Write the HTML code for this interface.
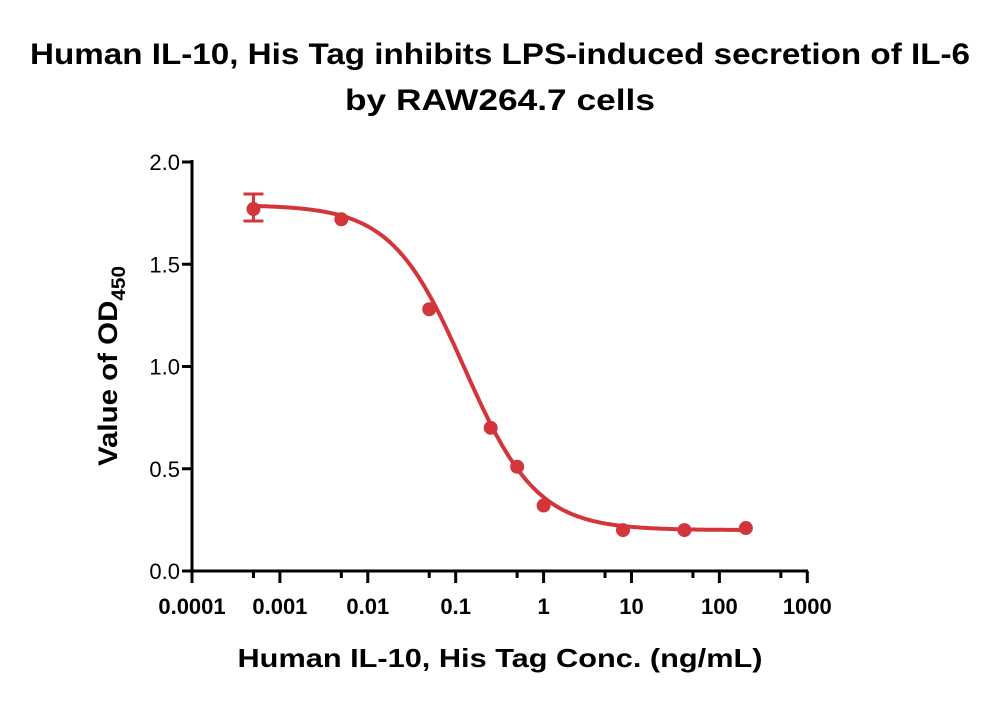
<!DOCTYPE html>
<html><head><meta charset="utf-8"><style>
body{margin:0;background:#fff;}
svg text{font-family:"Liberation Sans",sans-serif;fill:#000;}
</style></head><body>
<svg id="s" width="1000" height="699" viewBox="0 0 1000 699" xmlns="http://www.w3.org/2000/svg">
<text x="500" y="64" font-size="30" font-weight="bold" text-anchor="middle" textLength="940" lengthAdjust="spacingAndGlyphs">Human IL-10, His Tag inhibits LPS-induced secretion of IL-6</text>
<text x="500" y="110" font-size="30" font-weight="bold" text-anchor="middle" textLength="310" lengthAdjust="spacingAndGlyphs">by RAW264.7 cells</text>
<text x="500" y="667" font-size="26" font-weight="bold" text-anchor="middle" textLength="525" lengthAdjust="spacingAndGlyphs">Human IL-10, His Tag Conc. (ng/mL)</text>
<text transform="translate(117,366) rotate(-90)" font-size="27" font-weight="bold" text-anchor="middle" textLength="200" lengthAdjust="spacingAndGlyphs">Value of OD<tspan font-size="19" dy="8">450</tspan></text>
<g id="ax" stroke="#000" stroke-width="3" fill="none"></g>
<g id="lab" font-size="22"></g>
<path id="curve" fill="none" stroke="#d2363b" stroke-width="4"/>
<g id="pts" fill="#d2363b" stroke="#d2363b"></g>
</svg>
<script>
var X0=192,DX=87.9,Y0=571,SY=204.5;
function px(v){return X0+DX*(Math.log10(v)+4);}
function py(v){return Y0-SY*v;}
var ax=document.getElementById('ax'),lab=document.getElementById('lab');
var s='M192,160 L192,571 L808,571';
var L='';
for(var i=0;i<=4;i++){var y=py(i*0.5);s+=' M182,'+y+' L192,'+y;
L+='<text x="180" y="'+(y+8)+'" text-anchor="end">'+(i*0.5).toFixed(1)+'</text>';}
var xl=['0.0001','0.001','0.01','0.1','1','10','100','1000'];
for(var i=0;i<8;i++){var x=X0+DX*i;s+=' M'+x+',571 L'+x+',583';
L+='<text x="'+x+'" y="614" text-anchor="middle" font-weight="bold">'+xl[i]+'</text>';
if(i<7){var m=x+DX*Math.log10(5);s+=' M'+m+',571 L'+m+',578';}}
lab.innerHTML=L;
ax.innerHTML='<path d="'+s+'"/>';
var d='';
for(var lx=Math.log10(0.0005);lx<=Math.log10(200)+0.001;lx+=0.02){
var c=Math.pow(10,lx);var v=0.2+(1.79-0.2)/(1+Math.pow(c/0.125,1.05));
d+=(d?' L':'M')+px(c).toFixed(1)+','+py(v).toFixed(1);}
document.getElementById('curve').setAttribute('d',d);
var P=[[0.0005,1.77],[0.005,1.72],[0.05,1.28],[0.25,0.70],[0.5,0.51],[1,0.32],[8,0.20],[40,0.20],[200,0.21]];
var g=document.getElementById('pts'),h='';
P.forEach(function(p){h+='<circle cx="'+px(p[0])+'" cy="'+py(p[1])+'" r="7" stroke="none"/>';});
var ex=px(0.0005);
h+='<path d="M'+(ex-10)+',194 L'+(ex+10)+',194 M'+ex+',194 L'+ex+',221 M'+(ex-10)+',221 L'+(ex+10)+',221" stroke-width="3" fill="none"/>';
g.innerHTML=h;
</script>
</body></html>
